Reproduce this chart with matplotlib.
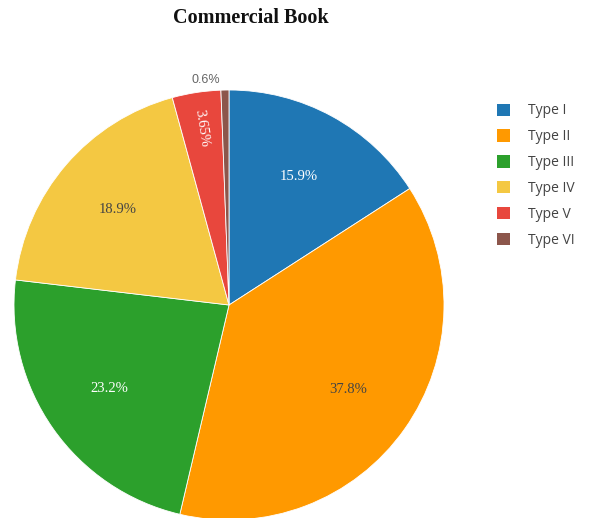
import numpy as np
import matplotlib.pyplot as plt
from matplotlib.patches import Patch

labels = ["Type I", "Type II", "Type III", "Type IV", "Type V", "Type VI"]
values = [15.9, 37.8, 23.2, 18.9, 3.65, 0.6]
pct_text = ["15.9%", "37.8%", "23.2%", "18.9%", "3.65%", "0.6%"]
colors = ["#1f77b4", "#ff9900", "#2ca02c", "#f4c842", "#e8473d", "#8c564b"]
text_colors = ["white", "#444444", "white", "#444444", "white", "#666666"]

W, H = 596, 518
fig = plt.figure(figsize=(W / 100, H / 100), dpi=100)

# pie centre ~ (229, 305) px, radius ~ 215 px
cx, cy, r = 229, 305, 215
ax = fig.add_axes([(cx - r) / W, (H - cy - r) / H, 2 * r / W, 2 * r / H])

wedges, _ = ax.pie(values, colors=colors, startangle=90, counterclock=False,
                   radius=1, wedgeprops=dict(linewidth=0.6, edgecolor="white"))
ax.set_xlim(-1, 1)
ax.set_ylim(-1, 1)
ax.set_aspect("equal")
ax.axis("off")

total = sum(values)
cum = 0.0
for i, v in enumerate(values):
    mid = 90 - (cum + v / 2) / total * 360
    cum += v
    a = np.deg2rad(mid)
    if i == 5:
        # tiny slice: label outside
        ax.text(1.03 * np.cos(a) - 0.02, 1.02 * np.sin(a), pct_text[i],
                ha="right", va="bottom", fontsize=9, color=text_colors[i],
                family="Liberation Sans")
        continue
    if i == 4:
        rad, rot = 0.83, mid - 180
    else:
        rad, rot = 0.68, 0
    ax.text(rad * np.cos(a), rad * np.sin(a), pct_text[i], ha="center",
            va="center", fontsize=10.5, color=text_colors[i], rotation=rot,
            rotation_mode="anchor", family="Liberation Serif")

fig.text(251 / W, 1 - 18 / H, "Commercial Book", ha="center", va="center",
         fontsize=14.5, fontweight="bold", family="Liberation Serif",
         color="#111111")

handles = [Patch(facecolor=c, edgecolor="none") for c in colors]
leg = fig.legend(handles, labels, loc="upper left",
                 bbox_to_anchor=(484 / W, 1 - 91 / H), frameon=False,
                 handlelength=1.0, handleheight=1.0, handletextpad=1.3,
                 labelspacing=0.78, prop={"family": "Open Sans", "size": 10})
for t in leg.get_texts():
    t.set_color("#444444")

fig.savefig("out.png", dpi=100)
